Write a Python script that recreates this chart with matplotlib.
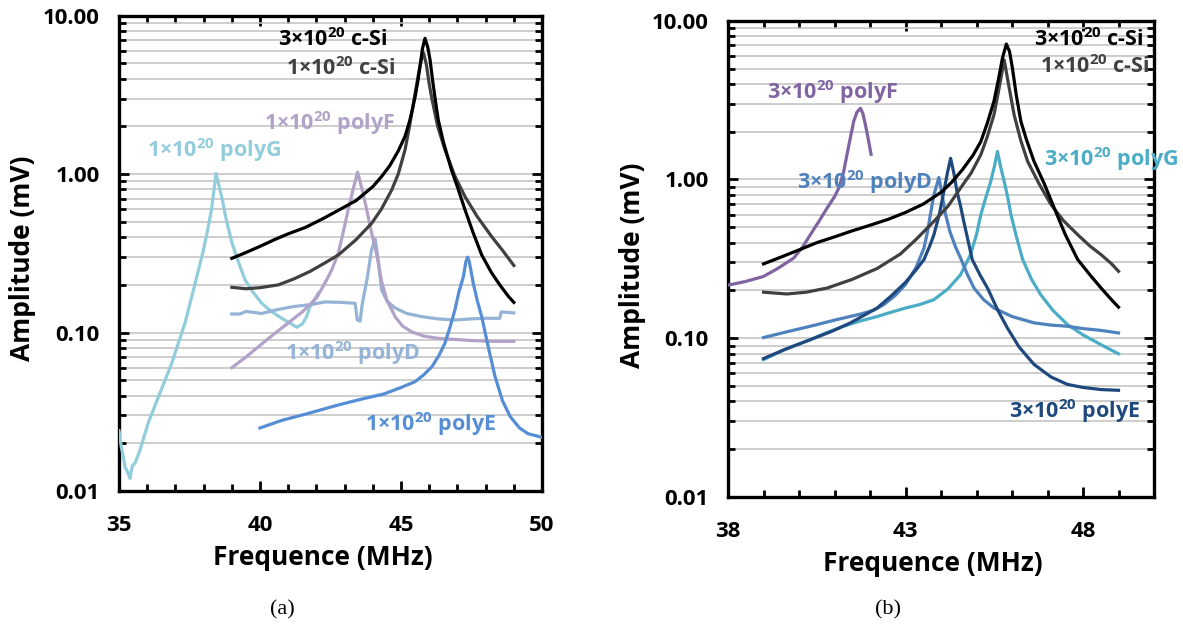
import matplotlib
matplotlib.use("Agg")
import matplotlib.pyplot as plt
from matplotlib.ticker import LogLocator, FixedLocator, MultipleLocator, NullFormatter

plt.rcParams['font.family'] = ['Open Sans', 'DejaVu Sans']
plt.rcParams['font.weight'] = 'bold'
plt.rcParams['mathtext.fontset'] = 'custom'
plt.rcParams['mathtext.rm'] = 'Open Sans:bold'
plt.rcParams['mathtext.it'] = 'Open Sans:bold'
plt.rcParams['mathtext.bf'] = 'Open Sans:bold'
plt.rcParams['mathtext.default'] = 'rm'

# ---- (a) 1e20 samples ----
csi3_x = [39.0, 39.5, 40.0, 40.5, 41.0, 41.6, 42.2, 42.8, 43.4, 44.0, 44.3, 44.6, 44.9, 45.14,
          45.3, 45.4, 45.5, 45.6, 45.68, 45.76, 45.85, 45.95, 46.03, 46.12, 46.22, 46.32, 46.5,
          46.79, 47.0, 47.27, 47.55, 47.86, 48.2, 48.5, 48.81, 49.0]
csi3_y = [0.294, 0.32, 0.35, 0.385, 0.42, 0.46, 0.52, 0.594, 0.68, 0.834, 0.96, 1.13, 1.4, 1.73,
          2.15, 2.55, 3.08, 3.9, 4.9, 6.2, 7.2, 6.3, 5.25, 3.9, 2.9, 2.2, 1.6,
          1.06, 0.83, 0.594, 0.43, 0.309, 0.24, 0.2, 0.169, 0.155]

csi1_x = [39.0, 39.5, 40.0, 40.65, 41.2, 41.77, 42.3, 42.78, 43.4, 43.96, 44.3, 44.67, 44.9,
          45.14, 45.3, 45.5, 45.62, 45.72, 45.8, 45.9, 46.0, 46.08, 46.3, 46.56, 46.9, 47.27,
          47.7, 48.21, 48.6, 49.0]
csi1_y = [0.193, 0.189, 0.192, 0.2, 0.218, 0.243, 0.275, 0.309, 0.385, 0.49, 0.6, 0.795, 1.0,
          1.42, 2.0, 3.24, 4.3, 5.3, 5.8, 4.9, 3.7, 3.08, 2.0, 1.42, 0.98, 0.72,
          0.54, 0.404, 0.33, 0.265]

polyG1_x = [35.0, 35.08, 35.15, 35.22, 35.27, 35.33, 35.39, 35.44, 35.48, 35.57, 35.74, 36.04,
            36.39, 36.87, 37.34, 37.7, 37.99, 38.15, 38.28, 38.37, 38.44, 38.54, 38.64, 38.8,
            39.0, 39.2, 39.47, 39.75, 40.06, 40.4, 40.77, 41.05, 41.3, 41.5, 41.65, 41.77, 42.07]
polyG1_y = [0.024, 0.019, 0.0165, 0.014, 0.0136, 0.0128, 0.012, 0.0135, 0.0145, 0.015, 0.018,
            0.027, 0.039, 0.064, 0.115, 0.205, 0.33, 0.45, 0.6, 0.8, 1.01, 0.85, 0.72, 0.52,
            0.37, 0.29, 0.215, 0.18, 0.153, 0.136, 0.123, 0.115, 0.108, 0.113, 0.126, 0.145, 0.178]

polyF1_x = [39.0, 39.5, 40.0, 40.5, 41.0, 41.5, 42.0, 42.3, 42.55, 42.78, 42.95, 43.13, 43.3,
            43.46, 43.62, 43.78, 43.95, 44.14, 44.31, 44.5, 44.79, 45.05, 45.38, 45.8, 46.3,
            47.5, 48.2, 49.0]
polyF1_y = [0.06, 0.07, 0.083, 0.098, 0.115, 0.135, 0.165, 0.205, 0.25, 0.32, 0.43, 0.6, 0.8,
            1.03, 0.8, 0.6, 0.43, 0.31, 0.21, 0.16, 0.126, 0.11, 0.101, 0.095, 0.092,
            0.089, 0.088, 0.088]

polyD1_x = [39.0, 39.3, 39.5, 40.06, 40.65, 41.2, 41.77, 42.3, 42.9, 43.37, 43.45, 43.55, 43.62,
            43.8, 43.95, 44.08, 44.2, 44.31, 44.5, 44.79, 45.2, 45.73, 46.3, 46.91, 47.5, 47.98,
            48.5, 48.55, 49.0]
polyD1_y = [0.131, 0.131, 0.136, 0.132, 0.14, 0.146, 0.15, 0.156, 0.155, 0.153, 0.12, 0.118,
            0.15, 0.22, 0.33, 0.39, 0.28, 0.186, 0.158, 0.143, 0.132, 0.126, 0.122, 0.12, 0.122,
            0.123, 0.123, 0.135, 0.133]

polyE1_x = [40.0, 40.8, 41.6, 42.8, 43.6, 44.4, 45.0, 45.5, 45.8, 46.1, 46.35, 46.56, 46.75,
            46.91, 47.05, 47.21, 47.3, 47.36, 47.42, 47.49, 47.56, 47.7, 47.86, 48.1, 48.33, 48.6,
            48.87, 49.2, 49.5, 50.0]
polyE1_y = [0.025, 0.028, 0.0305, 0.035, 0.038, 0.041, 0.045, 0.049, 0.054, 0.061, 0.072, 0.086,
            0.11, 0.139, 0.18, 0.225, 0.28, 0.299, 0.28, 0.24, 0.205, 0.16, 0.126, 0.08, 0.053,
            0.037, 0.0295, 0.025, 0.023, 0.0218]

# ---- (b) 3e20 samples ----
csi3b_x = [39.0, 39.5, 40.0, 40.5, 41.0, 41.5, 42.0, 42.5, 43.0, 43.5, 44.0, 44.3, 44.6, 44.9,
           45.12, 45.3, 45.49, 45.62, 45.73, 45.84, 45.93, 46.01, 46.12, 46.25, 46.4, 46.62,
           46.9, 47.19, 47.5, 47.85, 48.2, 48.51, 48.8, 49.0]
csi3b_y = [0.294, 0.325, 0.36, 0.4, 0.435, 0.475, 0.515, 0.56, 0.62, 0.7, 0.83, 0.96, 1.15, 1.42,
           1.73, 2.25, 3.1, 4.3, 5.8, 7.13, 6.4, 5.05, 3.4, 2.32, 1.8, 1.3,
           0.95, 0.66, 0.45, 0.313, 0.25, 0.207, 0.175, 0.157]

csi1b_x = [39.0, 39.66, 40.2, 40.79, 41.5, 42.2, 42.86, 43.3, 43.8, 44.2, 44.55, 44.85, 45.12,
           45.3, 45.49, 45.62, 45.78, 45.9, 46.06, 46.25, 46.44, 46.75, 47.1, 47.45, 47.85, 48.2,
           48.51, 48.8, 49.0]
csi1b_y = [0.195, 0.19, 0.195, 0.207, 0.235, 0.275, 0.34, 0.42, 0.545, 0.68, 0.883, 1.1, 1.43,
           1.85, 2.55, 3.6, 5.66, 4.0, 2.55, 1.75, 1.3, 0.95, 0.693, 0.55, 0.449, 0.38,
           0.336, 0.295, 0.264]

polyF3_x = [38.0, 38.5, 39.0, 39.4, 39.85, 40.1, 40.32, 40.55, 40.79, 41.0, 41.12, 41.25, 41.35,
            41.45, 41.54, 41.63, 41.73, 41.8, 41.87, 41.95, 42.03]
polyF3_y = [0.216, 0.228, 0.245, 0.275, 0.32, 0.375, 0.449, 0.54, 0.66, 0.78, 0.883, 1.1, 1.43,
            1.85, 2.32, 2.65, 2.81, 2.6, 2.21, 1.8, 1.44]

polyD3_x = [39.0, 39.6, 40.32, 41.0, 41.73, 42.1, 42.39, 42.7, 43.0, 43.3, 43.52, 43.62, 43.7,
            43.8, 43.94, 44.03, 44.13, 44.25, 44.4, 44.55, 44.75, 44.93, 45.2, 45.49, 46.0,
            46.62, 47.1, 47.56, 48.0, 48.51, 49.0]
polyD3_y = [0.101, 0.109, 0.119, 0.13, 0.142, 0.15, 0.163, 0.185, 0.218, 0.28, 0.37, 0.47, 0.6,
            0.8, 1.03, 0.8, 0.6, 0.47, 0.38, 0.32, 0.25, 0.207, 0.175, 0.155, 0.137,
            0.125, 0.121, 0.119, 0.115, 0.112, 0.108]

polyE3_x = [39.0, 39.6, 40.32, 40.9, 41.45, 42.2, 42.6, 43.0, 43.3, 43.52, 43.7, 43.8, 43.95,
            44.08, 44.18, 44.27, 44.36, 44.45, 44.55, 44.64, 44.88, 45.1, 45.31, 45.6, 45.87,
            46.2, 46.62, 47.1, 47.56, 48.0, 48.51, 49.0]
polyE3_y = [0.0745, 0.085, 0.098, 0.11, 0.125, 0.155, 0.185, 0.225, 0.27, 0.313, 0.39, 0.449,
            0.6, 0.84, 1.1, 1.36, 1.1, 0.84, 0.68, 0.545, 0.313, 0.25, 0.207, 0.15, 0.116,
            0.088, 0.0684, 0.057, 0.0512, 0.049, 0.0475, 0.047]

polyG3_x = [39.0, 39.6, 40.32, 40.8, 41.26, 41.7, 42.2, 42.6, 43.0, 43.4, 43.8, 44.2, 44.55,
            44.83, 45.0, 45.12, 45.27, 45.4, 45.5, 45.59, 45.68, 45.78, 45.88, 45.97, 46.12,
            46.3, 46.55, 46.81, 47.15, 47.56, 48.0, 48.51, 49.0]
polyG3_y = [0.0734, 0.085, 0.098, 0.109, 0.119, 0.128, 0.137, 0.146, 0.155, 0.163, 0.175, 0.205,
            0.251, 0.336, 0.45, 0.6, 0.78, 0.97, 1.2, 1.5, 1.2, 0.97, 0.77, 0.6, 0.44,
            0.313, 0.235, 0.188, 0.15, 0.122, 0.105, 0.091, 0.0798]

BLACK = '#000000'
GREY = '#404040'

fig = plt.figure(figsize=(11.83, 6.28), dpi=100)
ax1 = fig.add_axes([0.1006, 0.2182, 0.3576, 0.7568])
ax2 = fig.add_axes([0.6154, 0.2086, 0.3601, 0.7584])


def style(ax, xmin, xmax, major):
    ax.set_yscale('log')
    ax.set_ylim(0.01, 10)
    ax.set_xlim(xmin, xmax)
    ax.yaxis.set_major_locator(FixedLocator([0.01, 0.1, 1, 10]))
    ax.set_yticklabels(['0.01', '0.10', '1.00', '10.00'])
    ax.yaxis.set_minor_locator(LogLocator(base=10, subs=range(2, 10)))
    ax.yaxis.set_minor_formatter(NullFormatter())
    ax.xaxis.set_major_locator(MultipleLocator(major))
    ax.xaxis.set_minor_locator(MultipleLocator(1))
    ax.grid(which='both', axis='y', color='#c0c0c0', lw=1.1, zorder=0)
    ax.set_axisbelow(True)
    for s in ax.spines.values():
        s.set_linewidth(2.4)
    ax.tick_params(which='both', direction='in', top=True, right=True, width=2.0,
                   labelsize=16)
    ax.tick_params(which='major', length=7)
    ax.tick_params(which='minor', length=5)
    ax.tick_params(axis='y', pad=14)
    ax.tick_params(axis='x', pad=17)


style(ax1, 35, 50, 5)
style(ax2, 38, 50, 5)
ax2.set_xticks([38, 43, 48])

lw = 2.3
ax1.plot(polyG1_x, polyG1_y, color='#92CDDC', lw=lw, zorder=3)
ax1.plot(polyD1_x, polyD1_y, color='#95B3D7', lw=lw, zorder=3)
ax1.plot(polyF1_x, polyF1_y, color='#B3A2C7', lw=lw, zorder=3)
ax1.plot(polyE1_x, polyE1_y, color='#558ED5', lw=lw, zorder=3)
ax1.plot(csi1_x, csi1_y, color=GREY, lw=lw, zorder=4)
ax1.plot(csi3_x, csi3_y, color=BLACK, lw=lw, zorder=4)

ax2.plot(polyF3_x, polyF3_y, color='#8064A2', lw=lw, zorder=3)
ax2.plot(polyG3_x, polyG3_y, color='#4BACC6', lw=lw, zorder=3)
ax2.plot(polyD3_x, polyD3_y, color='#4F81BD', lw=lw, zorder=3)
ax2.plot(polyE3_x, polyE3_y, color='#1F497D', lw=lw, zorder=3)
ax2.plot(csi1b_x, csi1b_y, color=GREY, lw=lw, zorder=4)
ax2.plot(csi3b_x, csi3b_y, color=BLACK, lw=lw, zorder=4)

fs = 15.5
ax1.text(42.59, 7.1, '3×10$^{20}$ c-Si', color=BLACK, fontsize=fs, ha='center', va='center')
ax1.text(42.86, 4.66, '1×10$^{20}$ c-Si', color=GREY, fontsize=fs, ha='center', va='center')
ax1.text(42.47, 2.10, '1×10$^{20}$ polyF', color='#B3A2C7', fontsize=fs, ha='center', va='center')
ax1.text(38.37, 1.42, '1×10$^{20}$ polyG', color='#92CDDC', fontsize=fs, ha='center', va='center')
ax1.text(43.27, 0.0741, '1×10$^{20}$ polyD', color='#95B3D7', fontsize=fs, ha='center', va='center')
ax1.text(46.03, 0.0265, '1×10$^{20}$ polyE', color='#558ED5', fontsize=fs, ha='center', va='center')

ax2.text(48.17, 7.56, '3×10$^{20}$ c-Si', color=BLACK, fontsize=fs, ha='center', va='center')
ax2.text(48.34, 5.14, '1×10$^{20}$ c-Si', color=GREY, fontsize=fs, ha='center', va='center')
ax2.text(40.93, 3.57, '3×10$^{20}$ polyF', color='#8064A2', fontsize=fs, ha='center', va='center')
ax2.text(41.84, 0.97, '3×10$^{20}$ polyD', color='#4F81BD', fontsize=fs, ha='center', va='center')
ax2.text(48.79, 1.34, '3×10$^{20}$ polyG', color='#4BACC6', fontsize=fs, ha='center', va='center',
         clip_on=False)
ax2.text(47.77, 0.0348, '3×10$^{20}$ polyE', color='#1F497D', fontsize=fs, ha='center', va='center')

fig.text(0.273, 0.113, 'Frequence (MHz)', fontsize=19, ha='center', va='center')
fig.text(0.7887, 0.1035, 'Frequence (MHz)', fontsize=19, ha='center', va='center')
fig.text(0.0194, 0.589, 'Amplitude (mV)', fontsize=19, ha='center', va='center', rotation=90)
fig.text(0.535, 0.578, 'Amplitude (mV)', fontsize=19, ha='center', va='center', rotation=90)

fig.text(0.2384, 0.0287, '(a)', fontsize=16, ha='center', va='center',
         family='Liberation Serif', fontweight='normal')
fig.text(0.7506, 0.0287, '(b)', fontsize=16, ha='center', va='center',
         family='Liberation Serif', fontweight='normal')

fig.savefig('out.png', dpi=100)
